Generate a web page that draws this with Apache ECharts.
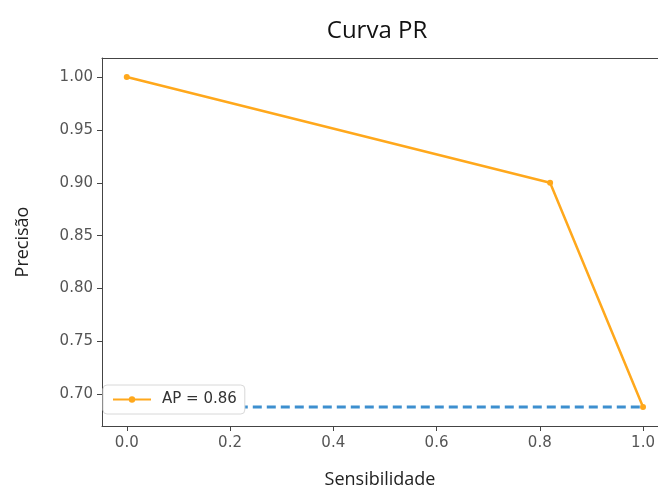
<!DOCTYPE html>
<html>
<head>
<meta charset="utf-8">
<script src="https://cdn.jsdelivr.net/npm/echarts@6/dist/echarts.min.js"></script>
<style>
  html, body { margin: 0; padding: 0; background: #fff; }
  #c1 { width: 658px; height: 494px; }
</style>
</head>
<body>
<div id="c1"></div>
<script>
// recall (sensibilidade) vs precision (precisão)
var recall = [0.0, 0.82, 1.0];
var precision = [1.0, 0.90, 0.688];
var baseline = 0.688; // no-skill line
var apLabel = "AP = 0.86";
var xTicks = [0.0, 0.2, 0.4, 0.6, 0.8, 1.0];
var yTicks = [0.70, 0.75, 0.80, 0.85, 0.90, 0.95, 1.00];

var chartDom = document.getElementById("c1");
var myChart = echarts.init(chartDom);

var prData = [];
for (var i = 0; i < recall.length; i++) {
  prData.push([recall[i], precision[i]]);
}

var tickColor = "#555";
var labelFont = "DejaVu Sans";

var option = {
  animation: false,
  title: {
    text: "Curva PR",
    left: 372,
    textAlign: "center",
    top: 14,
    textStyle: { fontFamily: "Open Sans", fontSize: 24, fontWeight: "normal", color: "#111" },
  },
  legend: {
    left: 103,
    top: 385,
    orient: "vertical",
    backgroundColor: "#fff",
    borderColor: "#d8d8d8",
    borderWidth: 1,
    borderRadius: 4,
    padding: [7, 8, 7, 9],
    itemWidth: 38,
    itemHeight: 8,
    itemGap: 4,
    data: [apLabel],
    textStyle: { fontFamily: labelFont, fontSize: 15, color: "#333", padding: [0, 0, 0, 6] },
  },
  grid: { left: 102, top: 58, right: -3, bottom: 65 },
  xAxis: [
    {
      type: "value",
      min: -0.048,
      max: 1.029,
      name: "Sensibilidade",
      nameLocation: "middle",
      nameGap: 45,
      nameTextStyle: { fontFamily: "Open Sans", fontSize: 18, color: "#222" },
      splitLine: { show: false },
      axisLine: { show: true, onZero: false, lineStyle: { color: "#444", width: 1 } },
      axisTick: { show: true, length: 5, customValues: xTicks, lineStyle: { color: "#444" } },
      axisLabel: {
        customValues: xTicks,
        margin: 10,
        fontFamily: labelFont,
        fontSize: 15,
        color: tickColor,
        formatter: function (v) { return v.toFixed(1); },
      },
    },
    {
      type: "value",
      position: "top",
      min: -0.048,
      max: 1.029,
      splitLine: { show: false },
      axisLine: { show: true, onZero: false, lineStyle: { color: "#444", width: 1 } },
      axisTick: { show: false },
      axisLabel: { show: false },
    },
  ],
  yAxis: {
    type: "value",
    min: 0.670,
    max: 1.018,
    name: "Precisão",
    nameLocation: "middle",
    nameGap: 70,
    nameTextStyle: { fontFamily: "Open Sans", fontSize: 18, color: "#222" },
    splitLine: { show: false },
    axisLine: { show: true, onZero: false, lineStyle: { color: "#444", width: 1 } },
    axisTick: { show: true, length: 5, customValues: yTicks, lineStyle: { color: "#444" } },
    axisLabel: {
      customValues: yTicks,
      margin: 9,
      fontFamily: labelFont,
      fontSize: 15,
      color: tickColor,
      formatter: function (v) { return v.toFixed(2); },
    },
  },
  series: [
    {
      name: "baseline",
      type: "line",
      data: [[0, baseline], [1, baseline]],
      symbol: "none",
      lineStyle: { color: "#3d8fcf", width: 3, type: [9, 5] },
      z: 1,
    },
    {
      name: apLabel,
      type: "line",
      data: prData,
      symbol: "circle",
      symbolSize: 6,
      itemStyle: { color: "#ffa81c" },
      lineStyle: { color: "#ffa81c", width: 2.5 },
      z: 2,
    },
  ],
};

myChart.setOption(option);
</script>
</body>
</html>
